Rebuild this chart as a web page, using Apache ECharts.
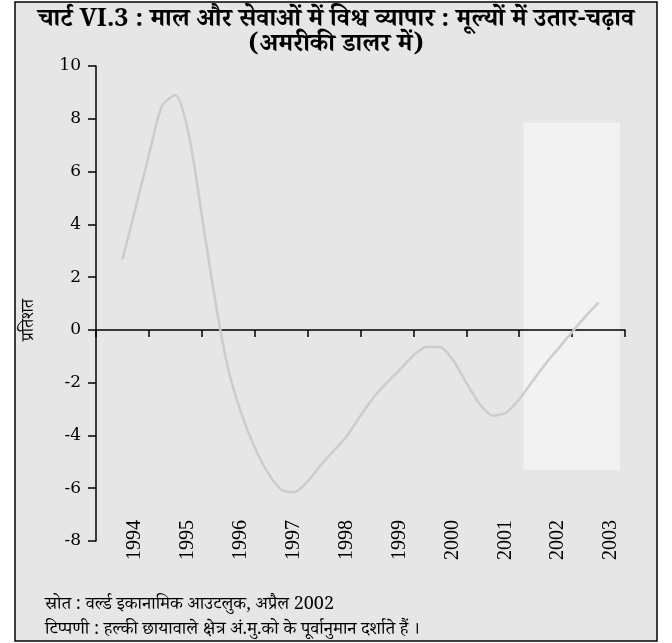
<!DOCTYPE html>
<html>
<head>
<meta charset="utf-8">
<script src="https://cdn.jsdelivr.net/npm/echarts@6/dist/echarts.min.js"></script>
<style>
  html, body { margin: 0; padding: 0; background: #ffffff; }
  #chart { width: 672px; height: 643px; }
</style>
</head>
<body>
<div id="chart"></div>
<script>
// World trade in goods and services: value fluctuations (per cent, US dollars)
const yearLabels = ['1994', '1995', '1996', '1997', '1998', '1999', '2000', '2001', '2002', '2003'];

// Quarterly positions on the year scale
const periods = [
  1994.50, 1994.75, 1995.00, 1995.25, 1995.50, 1995.75, 1996.00, 1996.25, 1996.50, 1996.75,
  1997.00, 1997.25, 1997.50, 1997.75, 1998.00, 1998.25, 1998.50, 1998.75, 1999.00, 1999.25,
  1999.50, 1999.75, 2000.00, 2000.25, 2000.50, 2000.75, 2001.00, 2001.25, 2001.50, 2001.75,
  2002.00, 2002.25, 2002.50, 2002.75, 2003.00, 2003.25, 2003.50
];
const tradeGrowth = [
  2.67, 4.64, 6.62, 8.50, 8.90, 7.45, 4.35, 1.15, -1.50, -3.17,
  -4.45, -5.42, -6.05, -6.15, -5.75, -5.12, -4.57, -4.00, -3.25, -2.55,
  -2.00, -1.50, -0.97, -0.65, -0.65, -1.15, -2.00, -2.80, -3.25, -3.14,
  -2.63, -1.95, -1.28, -0.68, -0.08, 0.50, 1.03
];

// IMF projection window (lightly shaded)
const projectionX = [2002.08, 2003.90];
const projectionY = [7.85, -5.30];

const yTicks = { min: -8, max: 10, step: 2 };

const titleLine1 = 'चार्ट VI.3 : माल और सेवाओं में विश्व व्यापार : मूल्यों में उतार-चढ़ाव';
const titleLine2 = '(अमरीकी डालर में)';
const yAxisName = 'प्रतिशत';
const sourceNote = 'स्रोत : वर्ल्ड इकानामिक आउटलुक, अप्रैल 2002';
const footNote = 'टिप्पणी : हल्की छायावाले क्षेत्र अं.मु.को के पूर्वानुमान दर्शाते हैं ।';

const devaFont = '"Noto Serif Devanagari", "Noto Sans Devanagari", "Lohit Devanagari", "Liberation Serif", serif';

const chart = echarts.init(document.getElementById('chart'), null, { renderer: 'canvas' });

const option = {
  backgroundColor: '#ffffff',
  animation: false,
  graphic: [
    {
      type: 'rect', z: -10, silent: true,
      shape: { x: 15, y: 2, width: 642, height: 639 },
      style: { fill: '#e6e6e6', stroke: '#000000', lineWidth: 1.5 }
    },
    {
      type: 'text', z: 10, x: 336, y: 24,
      style: { text: titleLine1, font: 'bold 25px ' + devaFont, fill: '#000000', align: 'center', verticalAlign: 'middle' }
    },
    {
      type: 'text', z: 10, x: 336, y: 49,
      style: { text: titleLine2, font: 'bold 25px ' + devaFont, fill: '#000000', align: 'center', verticalAlign: 'middle' }
    },
    {
      type: 'text', z: 10, x: 31, y: 320, rotation: Math.PI / 2,
      style: { text: yAxisName, font: '17px ' + devaFont, fill: '#000000', align: 'center', verticalAlign: 'middle' }
    },
    {
      type: 'text', z: 10, x: 45, y: 607,
      style: { text: sourceNote, font: '18px ' + devaFont, fill: '#000000', verticalAlign: 'middle' }
    },
    {
      type: 'text', z: 10, x: 45, y: 632,
      style: { text: footNote, font: '18px ' + devaFont, fill: '#000000', verticalAlign: 'middle' }
    }
  ],
  grid: [
    { left: 96, right: 47, top: 66, bottom: 102 },
    // Holds only the year labels, shifted right of the tick marks
    { left: 108.5, width: 529, top: 66, bottom: 131 }
  ],
  xAxis: [
    {
      type: 'value', gridIndex: 0,
      min: 1994, max: 2004, interval: 1,
      z: 5,
      axisLine: { onZero: true, lineStyle: { color: '#000000', width: 1.5 } },
      axisTick: { show: true, inside: false, length: 7, lineStyle: { color: '#000000', width: 1.5 } },
      axisLabel: { show: false },
      splitLine: { show: false }
    },
    {
      type: 'category', gridIndex: 1, data: yearLabels,
      boundaryGap: true,
      axisLine: { show: false },
      axisTick: { show: false },
      axisLabel: {
        rotate: 90, margin: 8, interval: 0,
        fontFamily: '"Liberation Serif", serif', fontSize: 20, color: '#000000'
      },
      splitLine: { show: false }
    }
  ],
  yAxis: [
    {
      type: 'value', gridIndex: 0,
      min: yTicks.min, max: yTicks.max, interval: yTicks.step,
      z: 5,
      axisLine: { show: true, onZero: false, lineStyle: { color: '#000000', width: 1.5 } },
      axisTick: { show: true, inside: false, length: 8, lineStyle: { color: '#000000', width: 1.5 } },
      axisLabel: {
        margin: 15,
        fontFamily: '"DejaVu Serif", serif', fontSize: 17, color: '#000000'
      },
      splitLine: { show: false }
    },
    {
      type: 'value', gridIndex: 1, show: false, min: 0, max: 1
    }
  ],
  series: [
    {
      // Projection window, drawn beneath the axes
      type: 'line', xAxisIndex: 0, yAxisIndex: 0,
      data: [],
      z: -1,
      markArea: {
        silent: true,
        itemStyle: { color: '#f2f2f2' },
        data: [[
          { coord: [projectionX[0], projectionY[0]] },
          { coord: [projectionX[1], projectionY[1]] }
        ]]
      }
    },
    {
      type: 'line', xAxisIndex: 0, yAxisIndex: 0,
      data: periods.map((p, i) => [p, tradeGrowth[i]]),
      smooth: 0.25,
      showSymbol: false,
      lineStyle: { color: '#cccccc', width: 2.5 },
      z: 6
    }
  ]
};

chart.setOption(option);
</script>
</body>
</html>
